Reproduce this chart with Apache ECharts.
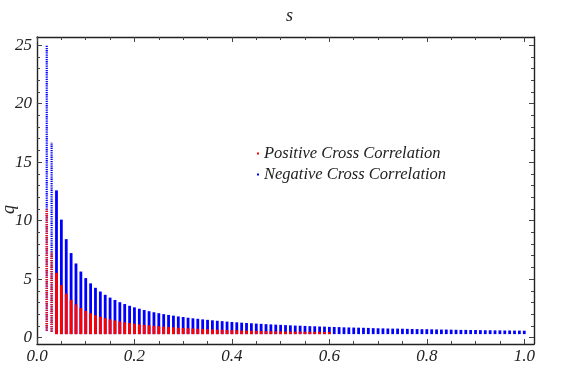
<!DOCTYPE html>
<html><head><meta charset="utf-8">
<script src="https://cdn.jsdelivr.net/npm/echarts@6/dist/echarts.min.js"></script>
<style>html,body{margin:0;padding:0;background:#fff}#c{width:572px;height:382px}</style>
</head><body><div id="c"></div>
<script>
// ---- data ----
const sValues = [0.02,0.03,0.04,0.05,0.06,0.07,0.08,0.09,0.10,
  0.11,0.12,0.13,0.14,0.15,0.16,0.17,0.18,0.19,0.20,
  0.21,0.22,0.23,0.24,0.25,0.26,0.27,0.28,0.29,0.30,
  0.31,0.32,0.33,0.34,0.35,0.36,0.37,0.38,0.39,0.40,
  0.41,0.42,0.43,0.44,0.45,0.46,0.47,0.48,0.49,0.50,
  0.51,0.52,0.53,0.54,0.55,0.56,0.57,0.58,0.59,0.60,
  0.61,0.62,0.63,0.64,0.65,0.66,0.67,0.68,0.69,0.70,
  0.71,0.72,0.73,0.74,0.75,0.76,0.77,0.78,0.79,0.80,
  0.81,0.82,0.83,0.84,0.85,0.86,0.87,0.88,0.89,0.90,
  0.91,0.92,0.93,0.94,0.95,0.96,0.97,0.98,0.99,1.00];
// top of the negative (blue) column for each s
const negativeTop = [25.0,16.7,12.5,10.0,8.33,7.14,6.25,5.56,5.0,
  4.55,4.17,3.85,3.57,3.33,3.13,2.94,2.78,2.63,2.5,
  2.38,2.27,2.17,2.08,2.0,1.92,1.85,1.79,1.72,1.67,
  1.61,1.56,1.52,1.47,1.43,1.39,1.35,1.32,1.28,1.25,
  1.22,1.19,1.16,1.14,1.11,1.09,1.06,1.04,1.02,1.0,
  0.98,0.96,0.94,0.93,0.91,0.89,0.88,0.86,0.85,0.83,
  0.82,0.81,0.79,0.78,0.77,0.76,0.75,0.74,0.72,0.71,
  0.70,0.69,0.68,0.68,0.67,0.66,0.65,0.64,0.63,0.63,
  0.62,0.61,0.60,0.60,0.59,0.58,0.57,0.57,0.56,0.56,
  0.55,0.54,0.54,0.53,0.53,0.52,0.52,0.51,0.51,0.50];
// top of the positive (red) column for each s (red disappears beyond these)
const positiveTop = [11.0,7.33,5.45,4.4,3.67,3.14,2.75,2.44,2.2,
  2.0,1.83,1.69,1.57,1.47,1.38,1.29,1.22,1.16,1.1,
  1.05,1.0,0.96,0.92,0.88,0.85,0.81,0.79,0.76,0.73,
  0.71,0.69,0.67,0.65,0.63,0.61,0.59,0.58,0.56,0.55,
  0.54,0.52,0.51,0.50,0.49,0.48,0.47,0.46,0.45,0.44,
  0.43,0.43,0.42,0.42,0.41,0.41,0.40,0.40,0.39,0.39];
// lowest q of each column (first two columns start higher)
const bottomFirst = [0.58, 0.5];
const bottomRest = 0.38;
const xMajor = [0, 0.2, 0.4, 0.6, 0.8, 1.0];
const xMinor = [0.05,0.1,0.15,0.25,0.3,0.35,0.45,0.5,0.55,0.65,0.7,0.75,0.85,0.9,0.95];
const yMajor = [0, 5, 10, 15, 20, 25];
const yMinor = [1,2,3,4,6,7,8,9,11,12,13,14,16,17,18,19,21,22,23,24];

// ---- build series data ----
function bottomAt(i){ return i < bottomFirst.length ? bottomFirst[i] : bottomRest; }
const negData = sValues.map((s,i)=>[s, bottomAt(i), negativeTop[i]]);
const posData = positiveTop.map((t,i)=>[sValues[i], bottomAt(i), t]);

const FONT = 'Liberation Serif';
const frameColor = '#222';

function renderCol(color){
  return function(params, api){
    const s = api.value(0), lo = api.value(1), hi = api.value(2);
    const p0 = api.coord([s, lo]);
    const p1 = api.coord([s, hi]);
    // the two leftmost columns appear as sparse dots in the reference
    if (params.dataIndex < 2) {
      return {type:'line', shape:{x1:p0[0], y1:p0[1], x2:p1[0], y2:p1[1]},
        style:{stroke:color, lineWidth:2.2, lineDash:[1.3,0.9]}};
    }
    return {type:'rect', shape:{x:p0[0]-1.4, y:p1[1]-1, width:2.8, height:Math.max(p0[1]-p1[1]+2, 1)},
      style:{fill:color}};
  };
}

const tickLabelStyle = {fontFamily:FONT, fontStyle:'italic', fontSize:17, color:'#222'};

function xAx(pos, values, len, withLabel, withLine){
  return {type:'value', position:pos, min:0, max:1.02,
    axisLine:{show:withLine, onZero:false, lineStyle:{color:frameColor, width:1.4}},
    axisTick:{show:true, inside:true, length:len, customValues:values, lineStyle:{color:'#444', width:1}},
    axisLabel:withLabel ? Object.assign({show:true, customValues:values, margin:4,
      formatter:v=>Number(v).toFixed(1)}, tickLabelStyle) : {show:false},
    splitLine:{show:false}};
}
function yAx(pos, values, len, withLabel, withLine){
  return {type:'value', position:pos, min:-0.55, max:25.7,
    axisLine:{show:withLine, onZero:false, lineStyle:{color:frameColor, width:1.4}},
    axisTick:{show:true, inside:true, length:len, customValues:values, lineStyle:{color:'#444', width:1}},
    axisLabel:withLabel ? Object.assign({show:true, customValues:values, margin:5,
      formatter:v=>String(v)}, tickLabelStyle) : {show:false},
    splitLine:{show:false}};
}

const chart = echarts.init(document.getElementById('c'), null, {renderer:'canvas'});
chart.setOption({
  animation:false,
  backgroundColor:'#fff',
  title:{text:'s', left:281, top:2,
    textStyle:{fontFamily:FONT, fontStyle:'italic', fontWeight:'normal', fontSize:18, color:'#222'}},
  grid:{left:37, right:38, top:37, bottom:38, containLabel:false},
  xAxis:[
    xAx('bottom', xMajor, 5, true, true),
    xAx('bottom', xMinor, 3, false, false),
    xAx('top', xMajor, 5, false, true),
    xAx('top', xMinor, 3, false, false)
  ],
  yAxis:[
    yAx('left', yMajor, 5, true, true),
    yAx('left', yMinor, 3, false, false),
    yAx('right', yMajor, 5, false, true),
    yAx('right', yMinor, 3, false, false)
  ],
  legend:{
    orient:'vertical', left:257, top:145, itemGap:4, padding:0,
    icon:'rect', itemWidth:2, itemHeight:2,
    textStyle:{fontFamily:FONT, fontStyle:'italic', fontSize:16.5, color:'#222', lineHeight:15},
    data:['Positive Cross Correlation','Negative Cross Correlation']
  },
  graphic:[{type:'text', left:0, top:205, rotation:Math.PI/2,
    style:{text:'q', fontFamily:FONT, fontStyle:'italic', fontSize:18, fill:'#222'}}],
  series:[
    {name:'Negative Cross Correlation', type:'custom', xAxisIndex:0, yAxisIndex:0,
      itemStyle:{color:'#0000ff'}, renderItem:renderCol('#0000ff'),
      encode:{x:0, y:[1,2]}, data:negData, z:2},
    {name:'Positive Cross Correlation', type:'custom', xAxisIndex:0, yAxisIndex:0,
      itemStyle:{color:'#ff0000'}, renderItem:renderCol('#ff0000'),
      encode:{x:0, y:[1,2]}, data:posData, z:3}
  ]
});
</script></body></html>
